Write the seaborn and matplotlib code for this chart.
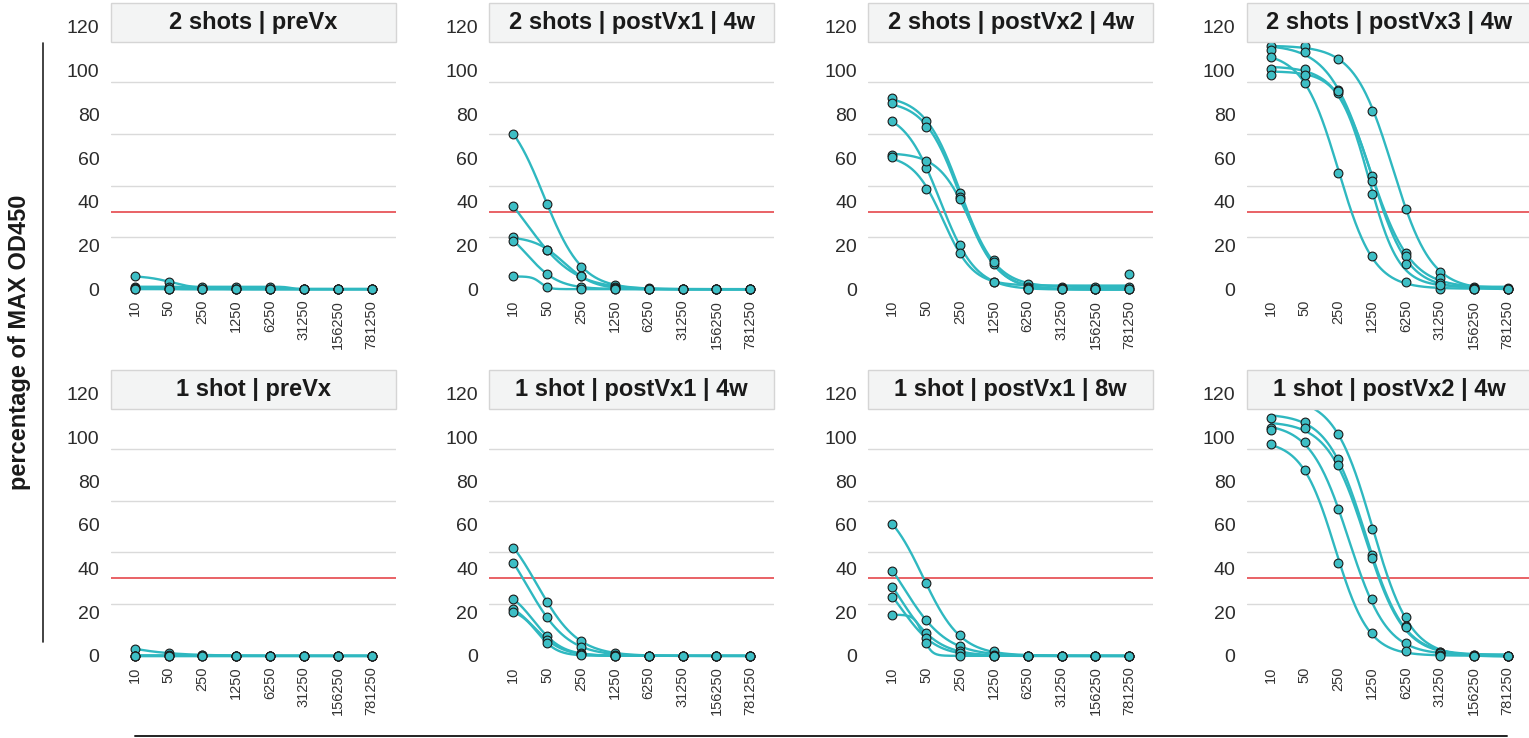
import numpy as np
import pandas as pd
import matplotlib
matplotlib.use("Agg")
import matplotlib.pyplot as plt
import seaborn as sns
from matplotlib.patches import Rectangle
from matplotlib.lines import Line2D

# ---------------- data ----------------
dilutions = ["10", "50", "250", "1250", "6250", "31250", "156250", "781250"]
titles = ["2 shots | preVx", "2 shots | postVx1 | 4w", "2 shots | postVx2 | 4w", "2 shots | postVx3 | 4w",
          "1 shot | preVx", "1 shot | postVx1 | 4w", "1 shot | postVx1 | 8w", "1 shot | postVx2 | 4w"]

shots2_preVx = [[4.9, 2.9, 0.5, 0, 0, 0, 0, 0],
                [0.8, 0.8, 1.0, 1.0, 1.0, 0, 0, 0],
                [0.3, 0.2, 0, 0, 0, 0, 0, 0],
                [0, 0, 0, 0, 0, 0, 0, 0],
                [0, 0, 0.2, 0, 0, 0, 0, 0]]
shots2_post1_4w = [[60.0, 33.0, 8.7, 1.5, 0.6, 0, 0, 0],
                   [32.0, 15.0, 4.9, 1.0, 0, 0, 0, 0],
                   [20.0, 15.2, 4.9, 0.5, 0, 0, 0, 0],
                   [18.8, 5.9, 0.8, 0, 0, 0, 0, 0],
                   [4.9, 0.8, 0, 0, 0, 0, 0, 0]]
shots2_post2_4w = [[73.9, 65.1, 37.1, 11.1, 2.0, 1.0, 0.8, 1.0],
                   [72.2, 62.9, 35.8, 9.8, 1.0, 0.3, 0, 0],
                   [65.1, 46.8, 16.9, 2.8, 0, 0, 0, 0],
                   [52.0, 49.7, 34.9, 10.5, 0.5, 0, 0, 0],
                   [51.0, 38.9, 13.9, 2.8, 0, 0, 0, 5.9]]
shots2_post3_4w = [[94.1, 94.1, 89.0, 69.0, 30.9, 6.8, 1.0, 0.5],
                   [92.6, 91.9, 77.1, 43.9, 13.9, 4.3, 0.5, 0],
                   [90.0, 79.9, 44.9, 12.9, 2.8, 0, 0, 0],
                   [85.1, 85.1, 75.8, 41.9, 12.9, 2.5, 0, 0],
                   [83.0, 83.0, 76.5, 36.9, 9.8, 1.5, 0, 0]]
shot1_preVx = [[2.8, 1.0, 0.5, 0, 0, 0, 0, 0],
               [0, 0.3, 0, 0, 0, 0, 0, 0],
               [0, 0, 0, 0, 0, 0, 0, 0],
               [0, 0, 0.2, 0, 0, 0, 0, 0],
               [0, 0, 0, 0, 0, 0, 0, 0]]
shot1_post1_4w = [[41.9, 20.9, 5.8, 1.0, 0, 0, 0, 0],
                  [35.9, 15.0, 3.6, 0.5, 0, 0, 0, 0],
                  [21.9, 7.7, 1.0, 0, 0, 0, 0, 0],
                  [18.1, 6.2, 0.8, 0, 0, 0, 0, 0],
                  [16.9, 4.9, 0.3, 0, 0, 0, 0, 0]]
shot1_post1_8w = [[50.9, 28.0, 7.9, 1.8, 0, 0, 0, 0],
                  [33.0, 13.9, 3.9, 0.5, 0, 0, 0, 0],
                  [26.8, 8.8, 1.8, 0, 0, 0, 0, 0],
                  [22.9, 6.8, 1.0, 0, 0, 0, 0, 0],
                  [15.9, 4.9, 0, 0, 0, 0, 0, 0]]
shot1_post2_4w = [[99.0, 98.0, 85.9, 49.0, 15.0, 1.5, 0.5, 0],
                  [92.0, 90.3, 76.1, 39.1, 11.7, 1.5, 0.3, 0],
                  [88.1, 88.1, 73.9, 38.0, 11.0, 1.0, 0, 0],
                  [87.2, 82.9, 57.0, 21.9, 4.9, 0.5, 0, 0],
                  [82.0, 72.0, 35.9, 8.8, 1.9, 0, 0, 0]]

panels = [shots2_preVx, shots2_post1_4w, shots2_post2_4w, shots2_post3_4w,
          shot1_preVx, shot1_post1_4w, shot1_post1_8w, shot1_post2_4w]
cutoff = 30
ytick_text = ["0", "20", "40", "60", "80", "100", "120"]

# long-form table
rows = []
for p, (title, vals) in enumerate(zip(titles, panels)):
    for s, series in enumerate(vals):
        for i, v in enumerate(series):
            rows.append(dict(panel=title, sample=s, xi=i, dilution=dilutions[i], value=v))
df = pd.DataFrame(rows)


# ---------------- 4-parameter logistic fit (grid over slope/midpoint, LS for asymptotes) -------------
def fit_4pl(x, y):
    B, C = np.meshgrid(np.linspace(0.3, 10, 80), np.linspace(-2, 9, 111), indexing="ij")
    s = 1.0 / (1.0 + np.exp(B[..., None] * (x[None, None, :] - C[..., None])))
    t = 1.0 - s
    a11 = (s * s).sum(-1) + 1e-9
    a12 = (s * t).sum(-1)
    a22 = (t * t).sum(-1) + 1e-9
    b1 = (s * y).sum(-1)
    b2 = (t * y).sum(-1)
    det = a11 * a22 - a12 * a12
    det = np.where(np.abs(det) < 1e-12, 1e-12, det)
    top = (b1 * a22 - b2 * a12) / det
    bot = (a11 * b2 - a12 * b1) / det
    pred = top[..., None] * s + bot[..., None] * t
    sse = ((pred - y) ** 2).sum(-1)
    k = np.unravel_index(np.argmin(sse), sse.shape)
    return B[k], C[k], top[k], bot[k]


def curve(x, params):
    b, c, top, bot = params
    s = 1.0 / (1.0 + np.exp(b * (x - c)))
    return bot + (top - bot) * s


# ---------------- style ----------------
sns.set_theme(style="white")
plt.rcParams["font.family"] = ["Liberation Sans", "DejaVu Sans"]

W, H = 1529, 738
fig = plt.figure(figsize=(W / 100, H / 100), dpi=100)

line_col = "#2FB8C0"
pt_col = "#3DBEC5"
red = "#E5474B"
grid_col = "#DADADA"

col_left = [110.7, 489.3, 868.3, 1246.7]
row_top = [3.3, 370.0]
ax_w, ax_h = 285.0, 295.0
strip_h = 39.0
ylim = (-3.55, 110.6)
label_scale = 43.7 / 51.7   # label spacing vs. gridline spacing in the reference
xfine = np.linspace(0, 7, 300)

for p, title in enumerate(titles):
    r, c = divmod(p, 4)
    L, T = col_left[c], row_top[r]
    ax = fig.add_axes([L / W, 1 - (T + ax_h) / H, ax_w / W, ax_h / H])
    sub = df[df.panel == title]

    curves = []
    for s, g in sub.groupby("sample"):
        prm = fit_4pl(g.xi.to_numpy(float), g.value.to_numpy(float))
        curves.append(pd.DataFrame(dict(x=xfine, y=curve(xfine, prm), sample=s)))
    cdf = pd.concat(curves)

    for gv in [20, 40, 60, 80, 100]:
        ax.axhline(gv, color=grid_col, lw=1.0, zorder=0)
    ax.axhline(cutoff, color=red, lw=1.2, zorder=1)

    sns.lineplot(data=cdf, x="x", y="y", units="sample", estimator=None, color=line_col,
                 lw=1.7, ax=ax, legend=False, zorder=2)
    sns.scatterplot(data=sub, x="xi", y="value", color=pt_col, edgecolor="#1a1a1a",
                    linewidth=0.8, s=40, ax=ax, legend=False, zorder=3)

    ax.set_xlim(-0.711, 7.711)
    ax.set_ylim(*ylim)
    ax.set_xticks(range(len(dilutions)))
    ax.set_xticklabels(dilutions, rotation=90, fontsize=10.5, color="#333333")
    ax.set_yticks(np.arange(0, 121, 20) * label_scale)
    ax.set_yticklabels(ytick_text, fontsize=14, color="#2b2b2b")
    ax.tick_params(axis="y", length=0, pad=8)
    ax.tick_params(axis="x", length=0, pad=1)
    ax.set_xlabel("")
    ax.set_ylabel("")
    for sp in ax.spines.values():
        sp.set_visible(False)
    ax.grid(False)

    frac = strip_h / ax_h
    ax.add_patch(Rectangle((0, 1 - frac), 1, frac, transform=ax.transAxes, facecolor="#F3F4F4",
                           edgecolor="#D5D5D5", lw=1.0, zorder=5, clip_on=False))
    ax.text(0.5, 1 - frac / 2, title, transform=ax.transAxes, ha="center", va="center",
            fontsize=17, fontweight="bold", color="#1a1a1a", zorder=6)

# outer axis decorations
fig.add_artist(Line2D([43 / W, 43 / W], [1 - 42.7 / H, 1 - 641.7 / H], transform=fig.transFigure,
                      color="#222222", lw=1.2))
fig.add_artist(Line2D([135 / W, 1507 / W], [1 - 736 / H, 1 - 736 / H], transform=fig.transFigure,
                      color="#222222", lw=1.4))
fig.text(20 / W, 1 - 342 / H, "percentage of MAX OD450", rotation=90, ha="center", va="center",
         fontsize=17, fontweight="bold", color="#1a1a1a")

fig.savefig("out.png", dpi=100)
